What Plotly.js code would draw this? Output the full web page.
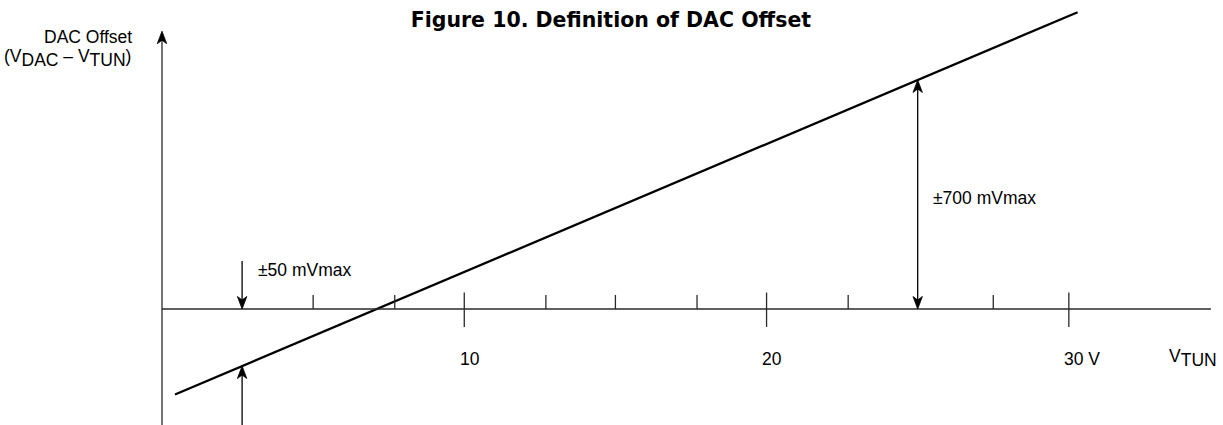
<!DOCTYPE html>
<html>
<head>
<meta charset="utf-8">
<script src="https://cdn.plot.ly/plotly-3.0.1.min.js"></script>
<style>
  html, body { margin: 0; padding: 0; background: #ffffff; }
  #chart { width: 1223px; height: 425px; }
</style>
</head>
<body>
<div id="chart"></div>
<script>
// ---------------- data ----------------
// Transfer line: DAC offset (mV, schematic) versus V_TUN (V)
const offsetLineX = [0.43, 30.29];
const offsetLineY = [-262, 910];
// x-axis ticks
const majorTickX = [10, 20, 30];
const majorTickLabels = ['10', '20', '30 V'];
const minorTickX = [5.0, 7.7, 12.7, 15.0, 17.7, 22.7, 27.5];
// specification markers
const specX = [2.65, 25.0];
const specLabels = ['±50 mVmax', '±700 mVmax'];
// axis extents (arrow tip of the vertical axis, end of the horizontal axis)
const axisXEnd = 34.7;
const axisYEnd = 852;
// text
const titleText = 'Figure 10. Definition of DAC Offset';
const yLabelLine1 = 'DAC Offset';
const SUBSTYLE = 'baseline-shift:-4px';
const yLabelLine2 = '(V<span style="' + SUBSTYLE + '">DAC</span> – V<span style="' + SUBSTYLE + '">TUN</span>)';
const xLabel = 'V<span style="' + SUBSTYLE + '">TUN</span>';

// ---------------- layout geometry ----------------
const W = 1223, H = 425;
const xRange = [-5.359, 35.10];
const yRange = [-355.7, 947.6];
const pxPerX = W / (xRange[1] - xRange[0]);
const pxPerY = H / (yRange[1] - yRange[0]);
// convert page pixel positions to data (for text placement only)
const X = px => xRange[0] + px / pxPerX;
const Y = py => yRange[1] - py / pxPerY;

function lineAt(x) {
  const t = (x - offsetLineX[0]) / (offsetLineX[1] - offsetLineX[0]);
  return offsetLineY[0] + t * (offsetLineY[1] - offsetLineY[0]);
}

const AXIS_COLOR = '#2a2a2a';
const INK = '#000000';
const FONT = 'Liberation Sans, Arial, Helvetica, sans-serif';

const shapes = [];
// axes
shapes.push({type: 'line', xref: 'x', yref: 'y', x0: 0, x1: 0, y0: yRange[0], y1: axisYEnd - 20,
  line: {color: AXIS_COLOR, width: 1.3}});
shapes.push({type: 'line', xref: 'x', yref: 'y', x0: 0, x1: axisXEnd, y0: 0, y1: 0,
  line: {color: AXIS_COLOR, width: 1.3}});

// ticks
minorTickX.forEach(v => shapes.push({type: 'line', xref: 'x', yref: 'y', ysizemode: 'pixel', yanchor: 0,
  x0: v, x1: v, y0: 0, y1: 14, line: {color: AXIS_COLOR, width: 1.3}}));
majorTickX.forEach(v => shapes.push({type: 'line', xref: 'x', yref: 'y', ysizemode: 'pixel', yanchor: 0,
  x0: v, x1: v, y0: -18, y1: 16.5, line: {color: AXIS_COLOR, width: 1.3}}));

// arrow heads (pixel-sized, anchored at a data point)
const HEAD_UP = 'M0,0 L-4.7,-12.5 L0,-9 L4.7,-12.5 Z';
const HEAD_DOWN = 'M0,0 L-4.7,12.5 L0,9 L4.7,12.5 Z';
function head(x, y, up) {
  shapes.push({type: 'path', xref: 'x', yref: 'y', xsizemode: 'pixel', ysizemode: 'pixel',
    xanchor: x, yanchor: y, path: up ? HEAD_UP : HEAD_DOWN,
    fillcolor: INK, line: {color: INK, width: 0.8}});
}
function shaft(x, y0, y1) {
  shapes.push({type: 'line', xref: 'x', yref: 'y', x0: x, x1: x, y0: y0, y1: y1,
    line: {color: INK, width: 1.3}});
}
// vertical axis arrow head
head(0, axisYEnd, true);

// ±50 mV marker: down arrow onto the axis, up arrow onto the line
shapes.push({type: 'line', xref: 'x', yref: 'y', ysizemode: 'pixel', yanchor: 0,
  x0: specX[0], x1: specX[0], y0: 6, y1: 48, line: {color: INK, width: 1.3}});
head(specX[0], 0, false);
shaft(specX[0], yRange[0], lineAt(specX[0]) - 20);
head(specX[0], lineAt(specX[0]), true);

// ±700 mV marker: double headed arrow between axis and line
shaft(specX[1], 20, lineAt(specX[1]) - 20);
head(specX[1], lineAt(specX[1]), true);
head(specX[1], 0, false);

const annotations = [];
const baseFont = {family: FONT, size: 17.5, color: INK};
function label(text, px, py, xanchor) {
  annotations.push({text: text, x: X(px), y: Y(py), xref: 'x', yref: 'y', xanchor: xanchor,
    yanchor: 'middle', showarrow: false, borderpad: 0, font: baseFont});
}
label(yLabelLine1, 133, 36.5, 'right');
label(yLabelLine2, 132, 57.5, 'right');
label(specLabels[0], 256.5, 270, 'left');
label(specLabels[1], 931.5, 197.5, 'left');
majorTickX.forEach((v, i) => {
  annotations.push({text: majorTickLabels[i], x: v, y: Y(358.5), xref: 'x', yref: 'y',
    xanchor: 'left', yanchor: 'middle', xshift: -5.5, showarrow: false, borderpad: 0, font: baseFont});
});
label(xLabel, 1167.5, 357.5, 'left');

const trace = {
  type: 'scatter', mode: 'lines', x: offsetLineX, y: offsetLineY,
  line: {color: INK, width: 2.3}, hoverinfo: 'skip', showlegend: false
};

const layout = {
  width: W, height: H,
  margin: {l: 0, r: 0, t: 0, b: 0, pad: 0},
  paper_bgcolor: '#ffffff', plot_bgcolor: '#ffffff',
  showlegend: false,
  title: {text: titleText, x: 610.9 / W, xanchor: 'center', y: 1 - 19.5 / H, yanchor: 'middle',
    xref: 'paper', yref: 'container',
    font: {family: 'DejaVu Sans, Liberation Sans, Arial, sans-serif', size: 20.5, weight: 'bold', color: INK}},
  xaxis: {range: xRange, visible: false, fixedrange: true},
  yaxis: {range: yRange, visible: false, fixedrange: true},
  shapes: shapes,
  annotations: annotations
};

Plotly.newPlot('chart', [trace], layout, {staticPlot: true, displayModeBar: false});
</script>
</body>
</html>
